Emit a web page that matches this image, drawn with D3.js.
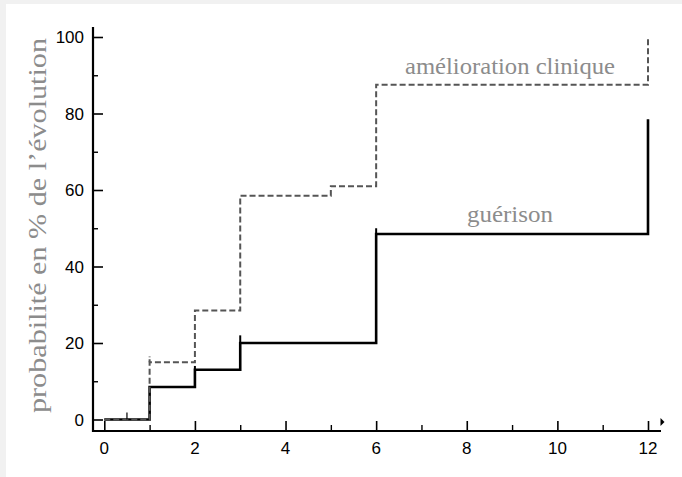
<!DOCTYPE html>
<html><head><meta charset="utf-8">
<script src="https://cdn.jsdelivr.net/npm/d3@7"></script>
<style>
html,body{margin:0;padding:0;background:#fff;}
svg{display:block;}
</style></head>
<body>
<svg id="chart" width="682" height="477"></svg>
<script>
// ---- data ----
const xTicks = [0, 2, 4, 6, 8, 10, 12];
const xMinor = [1, 3, 5, 7, 9, 11];
const yTicks = [0, 20, 40, 60, 80, 100];
const yMinor = [10, 30, 50, 70, 90];

const ameliorationX = [0, 1, 2, 3, 5, 6, 12];
const ameliorationY = [0, 15, 28.5, 58.5, 61, 87.5, 100];
const guerisonX = [0, 1, 2, 3, 6, 12];
const guerisonY = [0, 8.5, 13, 20, 48.5, 78.5];

// censoring marks (x, top of mark, base value)
const censorAmelX = [1];
const censorAmelTop = [16.5];
const censorAmelBase = [15];
const censorGuerX = [0.5, 2, 3, 6];
const censorGuerTop = [1.8, 14, 22, 50];
const censorGuerBase = [0, 13, 20, 48.5];

const labelY = "probabilité en % de l’évolution";
const labelAmel = "amélioration clinique";
const labelGuer = "guérison";

// ---- drawing ----
const svg = d3.select("#chart");

// light gray frame at top-left
svg.append("rect").attr("x",0).attr("y",0).attr("width",682).attr("height",477).attr("fill","#f1f1f1");
svg.append("rect").attr("x",6).attr("y",4).attr("width",676).attr("height",473).attr("fill","#ffffff");

const x = d3.scaleLinear().domain([0, 12]).range([104.3, 648]);
const y = d3.scaleLinear().domain([0, 100]).range([419.5, 37]);
const axisY = 431, axisX = 93;

// y axis
svg.append("line").attr("x1",axisX).attr("x2",axisX).attr("y1",27).attr("y2",axisY+1)
  .attr("stroke","#000").attr("stroke-width",2.2);
const yAxis = d3.axisRight(y).tickValues(yTicks).tickSize(10).tickFormat("");
const gy = svg.append("g").attr("transform",`translate(${axisX},0)`).call(yAxis);
gy.select(".domain").remove();
gy.selectAll(".tick line").attr("stroke","#000").attr("stroke-width",1.6);
const yAxisMinor = d3.axisRight(y).tickValues(yMinor).tickSize(5).tickFormat("");
const gym = svg.append("g").attr("transform",`translate(${axisX},0)`).call(yAxisMinor);
gym.select(".domain").remove();
gym.selectAll(".tick line").attr("stroke","#000").attr("stroke-width",1.4);
svg.append("g").selectAll("text").data(yTicks).join("text")
  .attr("x",84).attr("y",d=>y(d)+6).attr("text-anchor","end")
  .attr("font-family","Liberation Sans, Arial, sans-serif").attr("font-size",17)
  .attr("fill","#000").text(d=>d);

// x axis
svg.append("line").attr("x1",axisX-1).attr("x2",661).attr("y1",axisY).attr("y2",axisY)
  .attr("stroke","#000").attr("stroke-width",2.2);
const xAxis = d3.axisTop(x).tickValues(xTicks).tickSize(10).tickFormat("");
const gx = svg.append("g").attr("transform",`translate(0,${axisY})`).call(xAxis);
gx.select(".domain").remove();
gx.selectAll(".tick line").attr("stroke","#000").attr("stroke-width",1.6);
const xAxisMinor = d3.axisTop(x).tickValues(xMinor).tickSize(6).tickFormat("");
const gxm = svg.append("g").attr("transform",`translate(0,${axisY})`).call(xAxisMinor);
gxm.select(".domain").remove();
gxm.selectAll(".tick line").attr("stroke","#000").attr("stroke-width",1.4);
svg.append("g").selectAll("text").data(xTicks).join("text")
  .attr("x",d=>x(d)).attr("y",454).attr("text-anchor","middle")
  .attr("font-family","Liberation Sans, Arial, sans-serif").attr("font-size",17)
  .attr("fill","#000").text(d=>d);
// arrow head
svg.append("path").attr("d","M660.5,418 L664.5,422 L660.5,426 Z").attr("fill","#000");

// curves
const line = d3.line().x(d=>x(d[0])).y(d=>y(d[1])).curve(d3.curveStepAfter);
svg.append("path").datum(guerisonX.map((v,i)=>[v,guerisonY[i]]))
  .attr("d",line).attr("fill","none").attr("stroke","#000").attr("stroke-width",2.6);
svg.append("path").datum(ameliorationX.map((v,i)=>[v,ameliorationY[i]]))
  .attr("d",line).attr("fill","none").attr("stroke","#555").attr("stroke-width",2)
  .attr("stroke-dasharray","6,3");

// censor marks
svg.append("g").selectAll("line").data(censorGuerX).join("line")
  .attr("x1",d=>x(d)).attr("x2",d=>x(d))
  .attr("y1",(d,i)=>y(censorGuerBase[i])).attr("y2",(d,i)=>y(censorGuerTop[i]))
  .attr("stroke","#000").attr("stroke-width",(d,i)=>i===0?1.2:2);
svg.append("g").selectAll("line").data(censorAmelX).join("line")
  .attr("x1",d=>x(d)).attr("x2",d=>x(d))
  .attr("y1",(d,i)=>y(censorAmelBase[i])).attr("y2",(d,i)=>y(censorAmelTop[i]))
  .attr("stroke","#555").attr("stroke-width",2).attr("stroke-dasharray","3,2");

// labels
const serif = "Liberation Serif, 'Times New Roman', serif";
svg.append("text").attr("x",510).attr("y",74).attr("text-anchor","middle")
  .attr("font-family",serif).attr("font-size",23).attr("fill","#8c8c8c")
  .attr("textLength",210).attr("lengthAdjust","spacingAndGlyphs").text(labelAmel);
svg.append("text").attr("x",510).attr("y",222).attr("text-anchor","middle")
  .attr("font-family",serif).attr("font-size",23).attr("fill","#8c8c8c")
  .attr("textLength",86).attr("lengthAdjust","spacingAndGlyphs").text(labelGuer);
svg.append("text").attr("transform","translate(46,225.5) rotate(-90)")
  .attr("text-anchor","middle")
  .attr("font-family",serif).attr("font-size",25).attr("fill","#8c8c8c")
  .attr("textLength",375).attr("lengthAdjust","spacingAndGlyphs").text(labelY);
</script>
</body></html>
